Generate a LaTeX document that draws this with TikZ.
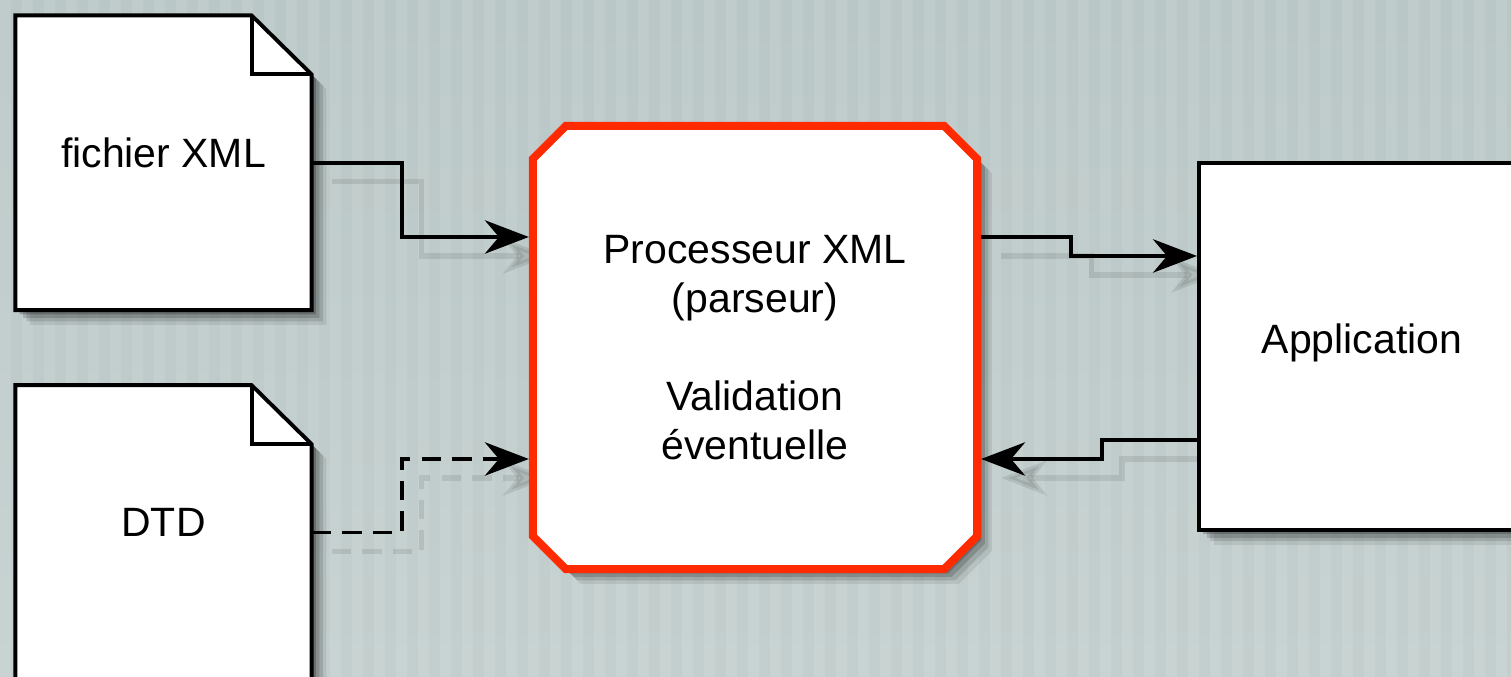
\documentclass[tikz,border=0pt]{standalone}
\usepackage{fontspec}
\setmainfont{Liberation Sans}
\usetikzlibrary{arrows.meta,shapes.misc,calc,shadows}
\definecolor{bgtop}{HTML}{B9C7C6}
\definecolor{bgbot}{HTML}{C3CFCE}
\definecolor{procred}{HTML}{FF2A00}
\pgfdeclarelayer{bglayer}
\pgfdeclarelayer{shadlayer}
\pgfdeclarelayer{doclayer}
\pgfsetlayers{bglayer,shadlayer,doclayer,main}
\newcommand{\docoutline}[1]{(#1.north west) -- ($(#1.north east)+(-60,0)$) -- ($(#1.north east)+(0,59)$) -- (#1.south east) -- (#1.south west) -- cycle}
\begin{document}
\begin{tikzpicture}[x=0.01cm,y=-0.01cm,
  lbl/.style={font=\fontsize{11.65pt}{13.95pt}\selectfont, align=center},
  docnode/.style={lbl, minimum width=2.96cm, minimum height=2.945cm, inner sep=0pt, outer sep=0pt},
  softshadow/.style={
    general shadow={shadow xshift=4.2pt, shadow yshift=-4.2pt, fill=black, opacity=.08},
    general shadow={shadow xshift=3.2pt, shadow yshift=-3.2pt, fill=black, opacity=.12},
    general shadow={shadow xshift=2.2pt, shadow yshift=-2.2pt, fill=black, opacity=.16},
    general shadow={shadow xshift=1.2pt, shadow yshift=-1.2pt, fill=black, opacity=.22}},
  procbox/.style={lbl, chamfered rectangle, chamfered rectangle xsep=0.165cm, chamfered rectangle ysep=0.165cm,
    minimum width=4.44cm, minimum height=4.43cm, inner sep=0pt, draw=procred, line width=2.3pt, fill=white, softshadow},
  appbox/.style={lbl, rectangle, minimum width=3.26cm, minimum height=3.67cm, draw=black, line width=1.1pt, fill=white, softshadow},
  conn/.style={line width=1.1pt, draw=black, -{Stealth[length=12.5pt,width=9.5pt,inset=4pt]}},
  dashconn/.style={conn, dash pattern=on 5.5pt off 3.2pt},
  cshadow/.style={draw=black, opacity=0.09, line width=1.5pt, -{Stealth[length=13pt,width=10pt,inset=4pt]}, transform canvas={xshift=5.7pt,yshift=-5.4pt}},
  docline/.style={line width=1.1pt, draw=black, line join=miter}
]
\useasboundingbox (0,0) rectangle (1511,677);
\clip (0,0) rectangle (1511,677);

% nodes
\node[docnode] (doc1) at (163.5,162.75) {\raisebox{6pt}{fichier XML}};
\node[docnode] (doc2) at (163.5,532.5) {\raisebox{6pt}{DTD}};
\node[procbox] (proc) at (755,347.5) {Processeur XML\\(parseur)\\[13.95pt]Validation\\éventuelle};
\node[appbox] (app) at (1362,346.5) {\raisebox{4.3pt}{Application}};

% background
\begin{pgfonlayer}{bglayer}
  \shade[top color=bgtop, bottom color=bgbot] (0,0) rectangle (1511,677);
  \foreach \i in {0,...,69} {
    \fill[white, opacity=0.09] (\i*22,0) rectangle ++(11,677);
  }
\end{pgfonlayer}

% document shapes
\begin{pgfonlayer}{doclayer}
  \foreach \s/\o in {4.2pt/0.08, 3.2pt/0.12, 2.2pt/0.16, 1.2pt/0.22} {
    \fill[black, opacity=\o, transform canvas={xshift=\s, yshift=-\s}] \docoutline{doc1};
    \fill[black, opacity=\o, transform canvas={xshift=\s, yshift=-\s}] \docoutline{doc2};
  }
  \filldraw[docline, fill=white] \docoutline{doc1};
  \draw[docline] ($(doc1.north east)+(-60,0)$) |- ($(doc1.north east)+(0,58.5)$);
  \filldraw[docline, fill=white] \docoutline{doc2};
  \draw[docline] ($(doc2.north east)+(-60,0)$) |- ($(doc2.north east)+(0,58.5)$);
\end{pgfonlayer}

% connector shadows
\begin{pgfonlayer}{shadlayer}
  \draw[cshadow] (doc1.east) -- ++(90,0) |- ($(proc.west)+(0,-110.5)$);
  \draw[cshadow, dash pattern=on 5.5pt off 3.2pt] (doc2.east) -- ++(90,0) |- ($(proc.west)+(0,111.5)$);
  \draw[cshadow] ($(proc.east)+(0,-110.5)$) -- ++(90,0) |- ($(app.west)+(0,-90.5)$);
  \draw[cshadow] ($(app.west)+(0,93.5)$) -- ++(-95,0) |- ($(proc.east)+(0,111.5)$);
\end{pgfonlayer}

% connectors
\draw[conn] (doc1.east) -- ++(90,0) |- ($(proc.west)+(0,-110.5)$);
\draw[dashconn] (doc2.east) -- ++(90,0) |- ($(proc.west)+(0,111.5)$);
\draw[conn] ($(proc.east)+(0,-110.5)$) -- ++(90,0) |- ($(app.west)+(0,-90.5)$);
\draw[conn] ($(app.west)+(0,93.5)$) -- ++(-95,0) |- ($(proc.east)+(0,111.5)$);
\end{tikzpicture}
\end{document}
